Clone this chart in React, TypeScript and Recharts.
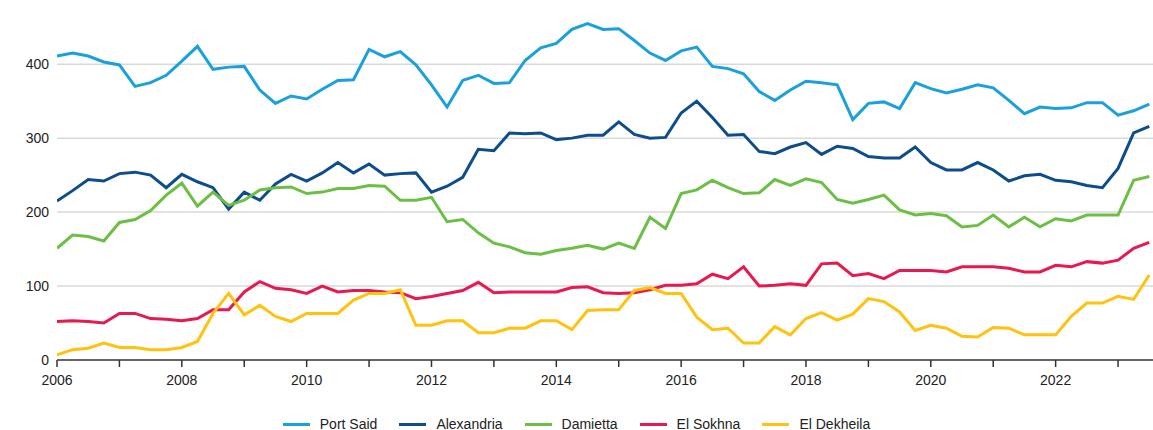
import React from "react";
import { LineChart, Line, XAxis, YAxis, CartesianGrid, Legend } from "recharts";

const quarters = [
  "2006Q1", "2006Q2", "2006Q3", "2006Q4", "2007Q1", "2007Q2", "2007Q3", "2007Q4",
  "2008Q1", "2008Q2", "2008Q3", "2008Q4", "2009Q1", "2009Q2", "2009Q3", "2009Q4",
  "2010Q1", "2010Q2", "2010Q3", "2010Q4", "2011Q1", "2011Q2", "2011Q3", "2011Q4",
  "2012Q1", "2012Q2", "2012Q3", "2012Q4", "2013Q1", "2013Q2", "2013Q3", "2013Q4",
  "2014Q1", "2014Q2", "2014Q3", "2014Q4", "2015Q1", "2015Q2", "2015Q3", "2015Q4",
  "2016Q1", "2016Q2", "2016Q3", "2016Q4", "2017Q1", "2017Q2", "2017Q3", "2017Q4",
  "2018Q1", "2018Q2", "2018Q3", "2018Q4", "2019Q1", "2019Q2", "2019Q3", "2019Q4",
  "2020Q1", "2020Q2", "2020Q3", "2020Q4", "2021Q1", "2021Q2", "2021Q3", "2021Q4",
  "2022Q1", "2022Q2", "2022Q3", "2022Q4", "2023Q1", "2023Q2", "2023Q3",
];

const portSaid = [
  411, 415, 411, 403, 399, 370, 375, 385, 404, 424, 393, 396, 397, 365, 347,
  357, 353, 366, 378, 379, 420, 410, 417, 399, 372, 342, 378, 385, 374, 375,
  405, 422, 428, 447, 455, 447, 448, 432, 415, 405, 418, 423, 397, 394, 387,
  363, 351, 365, 377, 375, 372, 325, 347, 349, 340, 375, 367, 361, 366,
  372, 368, 351, 333, 342, 340, 341, 348, 348, 331, 337, 346,
];
const alexandria = [
  215, 229, 244, 242, 252, 254, 250, 233, 251, 241, 233, 204, 227, 216, 238,
  251, 242, 253, 267, 253, 265, 250, 252, 253, 227, 235, 247, 285, 283, 307,
  306, 307, 298, 300, 304, 304, 322, 305, 300, 301, 334, 350, 328, 304, 305,
  282, 279, 288, 294, 278, 289, 286, 275, 273, 273, 288, 267, 257, 257,
  267, 257, 242, 249, 251, 243, 241, 236, 233, 259, 307, 316,
];
const damietta = [
  151, 169, 167, 161, 186, 190, 202, 223, 239, 208, 227, 209, 216, 230, 233,
  234, 225, 227, 232, 232, 236, 235, 216, 216, 220, 187, 190, 172, 158, 153,
  145, 143, 148, 151, 155, 150, 158, 151, 193, 178, 225, 230, 243, 233, 225,
  226, 244, 236, 245, 240, 217, 212, 217, 223, 203, 196, 198, 195, 180,
  182, 196, 180, 193, 180, 191, 188, 196, 196, 196, 243, 248,
];
const elSokhna = [
  52, 53, 52, 50, 63, 63, 56, 55, 53, 56, 68, 68, 92, 106, 97,
  95, 90, 100, 92, 94, 94, 92, 91, 83, 86, 90, 94, 105, 91, 92,
  92, 92, 92, 98, 99, 91, 90, 91, 95, 101, 101, 103, 116, 110, 126,
  100, 101, 103, 101, 130, 131, 114, 117, 110, 121, 121, 121, 119, 126,
  126, 126, 124, 119, 119, 128, 126, 133, 131, 135, 151, 159,
];
const elDekheila = [
  7, 14, 16, 23, 17, 17, 14, 14, 17, 25, 63, 90, 61, 74, 59,
  52, 63, 63, 63, 81, 90, 90, 95, 47, 47, 53, 53, 37, 37, 43,
  43, 53, 53, 41, 67, 68, 68, 94, 98, 90, 90, 58, 41, 43, 23,
  23, 45, 34, 56, 64, 54, 62, 83, 79, 65, 40, 47, 43, 32,
  31, 44, 43, 34, 34, 34, 59, 77, 77, 86, 82, 115,
];

const yearTicks = [
  2006, 2007, 2008, 2009, 2010, 2011, 2012, 2013, 2014, 2015, 2016, 2017,
  2018, 2019, 2020, 2021, 2022, 2023,
];
const valueTicks = [0, 100, 200, 300, 400];
const gridValues = [100, 200, 300, 400];

const series = [
  { key: "portSaid", name: "Port Said", color: "#1aa1dc", values: portSaid },
  { key: "alexandria", name: "Alexandria", color: "#0e4d8c", values: alexandria },
  { key: "damietta", name: "Damietta", color: "#6cbf45", values: damietta },
  { key: "elSokhna", name: "El Sokhna", color: "#e8194f", values: elSokhna },
  { key: "elDekheila", name: "El Dekheila", color: "#ffc20e", values: elDekheila },
];

// quarter label -> decimal year, so the x axis can be numeric
const toYear = (q: string) => Number(q.slice(0, 4)) + (Number(q.slice(5)) - 1) / 4;

const data = quarters.map((q, i) => {
  const row: Record<string, number | string> = { q, t: toYear(q) };
  series.forEach((s) => (row[s.key] = s.values[i]));
  return row;
});

const font = "'Liberation Sans', Arial, sans-serif";

function LegendBox() {
  return (
    <div
      style={{
        display: "flex",
        justifyContent: "center",
        alignItems: "center",
        height: 18,
        paddingTop: 3,
        fontFamily: font,
        fontSize: 14,
        color: "#222",
      }}
    >
      {series.map((s, i) => (
        <div
          key={s.key}
          style={{ display: "flex", alignItems: "center", marginLeft: i === 0 ? 0 : 22 }}
        >
          <span
            style={{
              display: "inline-block",
              width: 27,
              height: 3,
              background: s.color,
              marginRight: 10,
            }}
          />
          <span>{s.name}</span>
        </div>
      ))}
    </div>
  );
}

export default function App() {
  return (
    <div style={{ position: "absolute", left: 0, top: 0, width: 1153, height: 430, background: "#fff" }}>
      <LineChart
        width={1153}
        height={430}
        data={data}
        margin={{ top: 5, right: 0, bottom: 0, left: 0 }}
      >
        <CartesianGrid
          vertical={false}
          horizontalValues={gridValues}
          stroke="#d9d9d9"
          strokeWidth={1.5}
        />
        <XAxis
          dataKey="t"
          type="number"
          domain={[2006, 2023.56]}
          ticks={yearTicks}
          allowDataOverflow
          height={52}
          tickSize={7}
          tickMargin={8}
          interval={0}
          tickFormatter={(v: number) => (v % 2 === 0 ? String(v) : "")}
          axisLine={{ stroke: "#333", strokeWidth: 1.5 }}
          tickLine={{ stroke: "#333", strokeWidth: 1.5 }}
          tick={{ fill: "#222", fontSize: 14, fontFamily: font }}
        />
        <YAxis
          domain={[0, 480]}
          ticks={valueTicks}
          width={57}
          axisLine={false}
          tickLine={false}
          tick={{ fill: "#222", fontSize: 14, fontFamily: font }}
        />
        <Legend verticalAlign="bottom" content={() => <LegendBox />} wrapperStyle={{ height: 18 }} />
        {series.map((s) => (
          <Line
            key={s.key}
            dataKey={s.key}
            name={s.name}
            type="linear"
            stroke={s.color}
            strokeWidth={3}
            dot={false}
            isAnimationActive={false}
          />
        ))}
      </LineChart>
    </div>
  );
}
